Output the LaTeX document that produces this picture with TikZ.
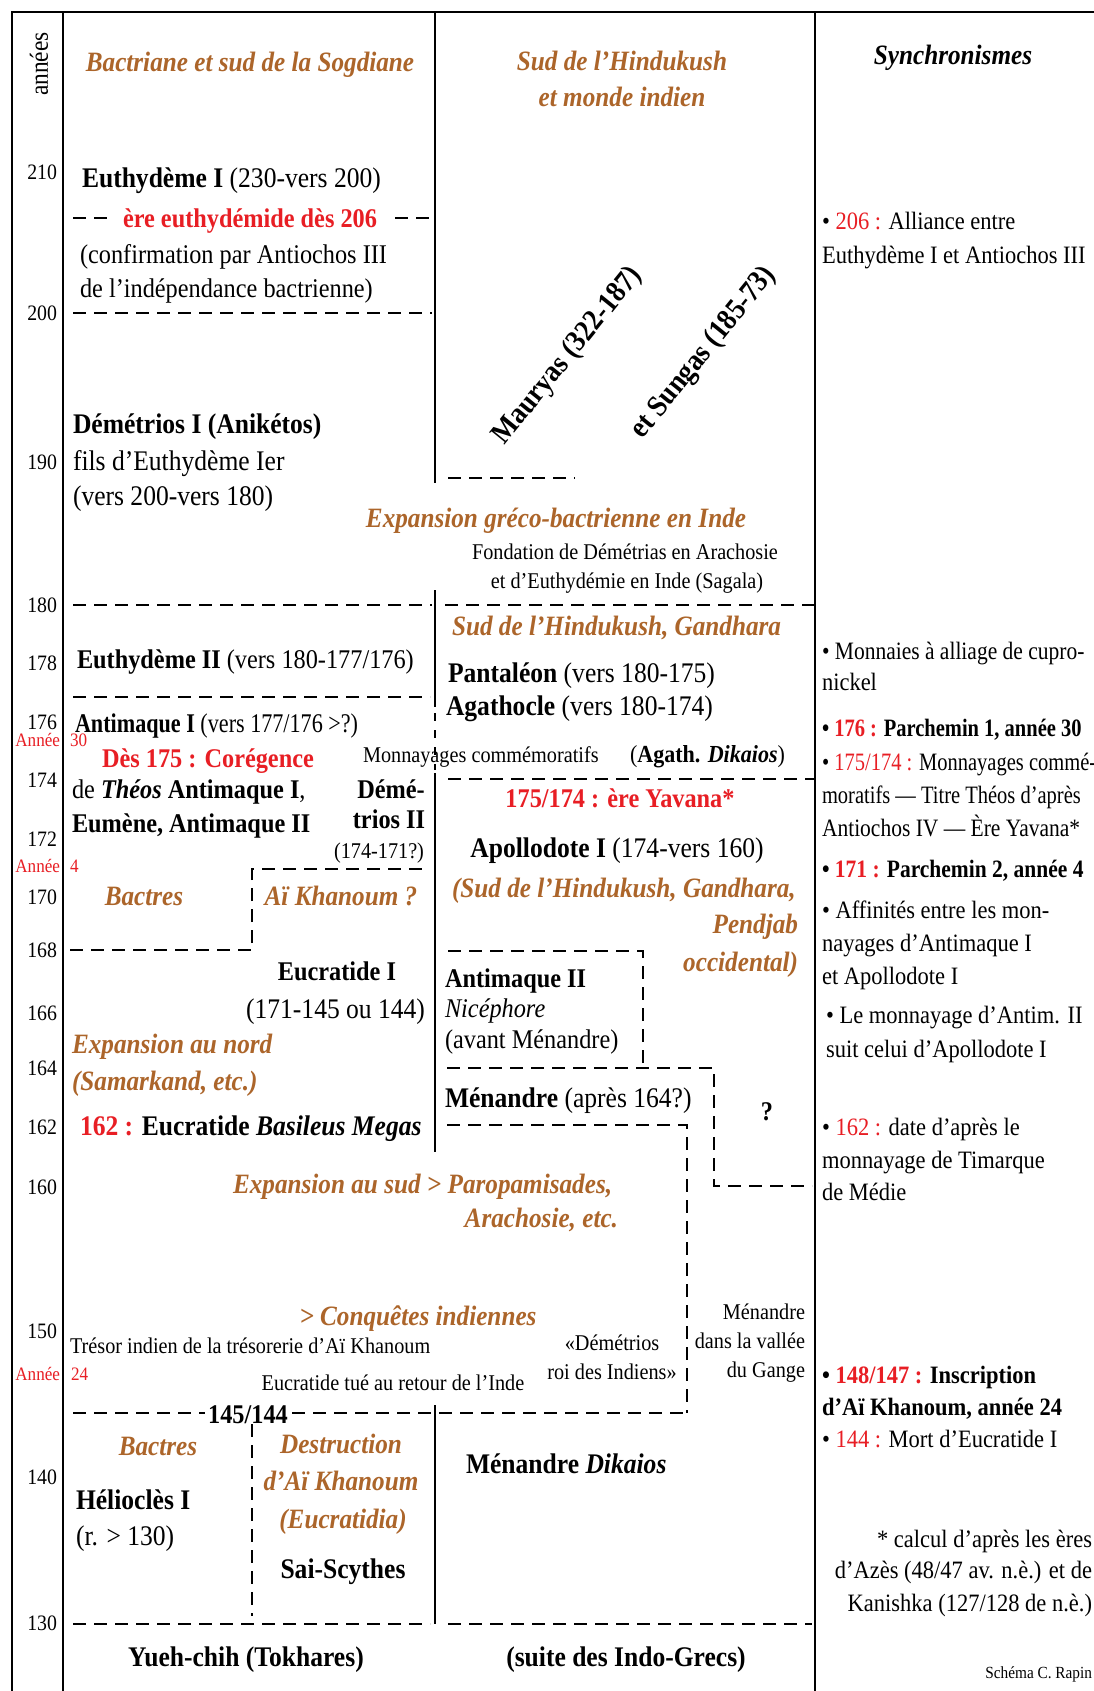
\documentclass[tikz,border=0pt]{standalone}
\usepackage{fontspec}
\setmainfont{Liberation Serif}[FakeStretch=0.9]
\newfontfamily\fA{Liberation Serif}[FakeStretch=0.82]
\newfontfamily\fB{Liberation Serif}[FakeStretch=0.86]
\definecolor{brn}{RGB}{172,101,42}
\definecolor{rd}{RGB}{232,30,36}
\begin{document}
\begin{tikzpicture}[x=1pt,y=-1pt,
  every node/.style={inner sep=0pt, outer sep=0pt},
  frame/.style={line width=2.6pt, black},
  dsh/.style={line width=2.6pt, dash pattern=on 13pt off 8pt},
  big/.style={font=\fontsize{27}{32}\selectfont},
  bigl/.style={font=\fontsize{28.4}{33}\selectfont},
  hd/.style={font=\fontsize{28}{33}\selectfont\bfseries\itshape, text=brn},
  sm/.style={font=\fontsize{22.5}{26}\selectfont},
  syn/.style={font=\fontsize{25}{30}\selectfont, anchor=base west},
  yr/.style={font=\fontsize{22}{26}\selectfont, anchor=base east},
  an/.style={font=\fontsize{19}{22}\selectfont, text=rd},
  rot/.style={font=\fontsize{30}{34}\selectfont\bfseries, rotate=51},
]
\useasboundingbox (0,0) rectangle (1094,1691);
\fill[white] (0,0) rectangle (1094,1691);
% ---------- frame
\draw[frame] (1094,12) -- (12,12) -- (12,1691);
\draw[frame] (63,12) -- (63,1691);
\draw[frame] (815,12) -- (815,1691);
\draw[frame] (435,12) -- (435,483);
\draw[frame] (435,590) -- (435,707);
\draw[line width=2.6pt, dash pattern=on 8pt off 9pt] (435,713) -- (435,770);
\draw[frame] (435,773) -- (435,1152);
\draw[frame] (435,1405) -- (435,1624);
% ---------- dashed lines
\draw[dsh] (73,218) -- (110,218);
\draw[dsh] (395,218) -- (432,218);
\draw[dsh] (73,313) -- (432,313);
\draw[dsh] (448,478) -- (575,478);
\draw[dsh] (73,605) -- (432,605);
\draw[dsh] (445,605) -- (815,605);
\draw[dsh] (73,697) -- (430,697);
\draw[dsh] (448,779) -- (815,779);
\draw[dsh] (70,950) -- (252,950) -- (252,869) -- (428,869);
\draw[dsh] (448,951) -- (643,951) -- (643,1063);
\draw[dsh] (447,1068) -- (714,1068) -- (714,1186) -- (812,1186);
\draw[dsh] (447,1125) -- (687,1125) -- (687,1413);
\draw[dsh] (73,1413) -- (205,1413);
\draw[dsh] (292,1413) -- (687,1413);
\draw[dsh] (252,1424) -- (252,1616);
\draw[dsh] (73,1624) -- (430,1624);
\draw[dsh] (448,1624) -- (812,1624);
% ---------- headers
\node[hd, anchor=base] (hbac) at (250,72) {Bactriane et sud de la Sogdiane};
\node[hd, anchor=base] (hsud1) at (622,71) {Sud de l’Hindukush};
\node[hd, anchor=base] (hsud2) at (622,107) {et monde indien};
\node[hd, text=black, anchor=base] (hsyn) at (953,65) {Synchronismes};
\node[font=\fontsize{26}{30}\selectfont, rotate=90] (ann) at (39,64) {années};
% ---------- years
\foreach \v/\b in {210/179,200/320,190/469,180/612,178/670,176/729,174/787,172/846,170/904,168/957,166/1020,164/1075,162/1134,160/1194,150/1338,140/1484,130/1630}
  \node[yr] (y\v) at (57,\b) {\v};
\node[an, anchor=base east] (a30) at (60,746) {Année};
\node[an, anchor=base west] (n30) at (70,746) {30};
\node[an, anchor=base east] (a4) at (60,872) {Année};
\node[an, anchor=base west] (n4) at (70,872) {4};
\node[an, anchor=base east] (a24) at (60,1380) {Année};
\node[an, anchor=base west] (n24) at (71,1380) {24};
% ---------- left column
\node[bigl, anchor=base west] (eut1) at (82,187) {\textbf{Euthydème I} (230-vers 200)};
\node[anchor=base, text=rd, font=\fontsize{27}{32}\selectfont\bfseries] (ere) at (250,227) {ère euthydémide dès 206};
\node[big, anchor=base west] (conf1) at (80,263) {(confirmation par Antiochos III};
\node[big, anchor=base west] (conf2) at (80,297) {de l’indépendance bactrienne)};
\node[bigl, anchor=base west] (dem1) at (73,433) {\textbf{Démétrios I (Anikétos)}};
\node[bigl, anchor=base west] (dem2) at (73,470) {fils d’Euthydème Ier};
\node[bigl, anchor=base west] (dem3) at (73,505) {(vers 200-vers 180)};
\node[big, anchor=base west] (eut2) at (77,668) {\textbf{Euthydème II} (vers 180-177/176)};
\node[big, anchor=base west, font=\fontsize{27}{32}\fA] (ant1) at (75,732) {\textbf{Antimaque I} (vers 177/176 >?)};
\node[anchor=base west, text=rd, font=\fontsize{27}{32}\selectfont\bfseries] (cor) at (102,767) {Dès 175 : Corégence};
\node[big, anchor=base west] (cor2) at (72,798) {de \textbf{\textit{Théos} Antimaque I},};
\node[big, anchor=base west] (cor3) at (72,832) {\textbf{Eumène, Antimaque II}};
\node[big, anchor=base] (dm1) at (391,798) {\textbf{Démé-}};
\node[big, anchor=base] (dm2) at (389,828) {\textbf{trios II}};
\node[sm, anchor=base] (dm3) at (379,858) {(174-171?)};
\node[hd, anchor=base] (bac1) at (144,905) {Bactres};
\node[hd, anchor=base] (aik1) at (341,905) {Aï Khanoum ?};
\node[big, anchor=base] (euc1) at (337,980) {\textbf{Eucratide I}};
\node[bigl, anchor=base east] (euc2) at (425,1018) {(171-145 ou 144)};
\node[hd, anchor=base west] (expn1) at (72,1053) {Expansion au nord};
\node[hd, anchor=base west] (expn2) at (72,1090) {(Samarkand, etc.)};
\node[bigl, anchor=base west] (euc3) at (80,1135) {\bfseries\textcolor{rd}{162 :} Eucratide \textit{Basileus Megas}};
\node[hd, anchor=base west] (exps1) at (233,1193) {Expansion au sud > Paropamisades,};
\node[hd, anchor=base east] (exps2) at (618,1227) {Arachosie, etc.};
% ---------- middle column
\node[rot] (maur) at (568,356) {Mauryas (322-187)};
\node[rot] (sung) at (704,353) {et Sungas (185-73)};
\node[hd, anchor=base] (expg) at (556,527) {Expansion gréco-bactrienne en Inde};
\node[sm, anchor=base] (fond1) at (625,559) {Fondation de Démétrias en Arachosie};
\node[sm, anchor=base] (fond2) at (627,588) {et d’Euthydémie en Inde (Sagala)};
\node[hd, anchor=base west] (sudg) at (452,635) {Sud de l’Hindukush, Gandhara};
\node[bigl, anchor=base west] (pant) at (448,682) {\textbf{Pantaléon} (vers 180-175)};
\node[bigl, anchor=base west] (agat) at (446,715) {\textbf{Agathocle} (vers 180-174)};
\node[sm, anchor=base west] (monn) at (363,762) {Monnayages commémoratifs};
\node[anchor=base west, font=\fontsize{24.5}{28}\selectfont] (agd) at (630,762) {(\textbf{Agath. \textit{Dikaios}})};
\node[anchor=base, text=rd, font=\fontsize{27}{32}\selectfont\bfseries] (yav) at (620,807) {175/174 : ère Yavana*};
\node[bigl, anchor=base] (apo) at (617,857) {\textbf{Apollodote I} (174-vers 160)};
\node[hd, anchor=base west] (sudg2) at (452,897) {(Sud de l’Hindukush, Gandhara,};
\node[hd, anchor=base east] (pend) at (798,933) {Pendjab};
\node[hd, anchor=base east] (occ) at (798,971) {occidental)};
\node[big, anchor=base west] (ant2a) at (445,987) {\textbf{Antimaque II}};
\node[big, anchor=base west] (ant2b) at (445,1017) {\textit{Nicéphore}};
\node[big, anchor=base west] (ant2c) at (445,1048) {(avant Ménandre)};
\node[bigl, anchor=base west] (men) at (445,1107) {\textbf{Ménandre} (après 164?)};
\node[big, anchor=base] (qm) at (767,1120) {\textbf{?}};
% ---------- lower band
\node[hd, anchor=base] (conq) at (418,1325) {> Conquêtes indiennes};
\node[sm, anchor=base west] (tres) at (70,1353) {Trésor indien de la trésorerie d’Aï Khanoum};
\node[sm, anchor=base] (tue) at (393,1390) {Eucratide tué au retour de l’Inde};
\node[sm, anchor=base] (dmt1) at (612,1350) {«Démétrios};
\node[sm, anchor=base] (dmt2) at (612,1379) {roi des Indiens»};
\node[sm, anchor=base east] (mg1) at (805,1319) {Ménandre};
\node[sm, anchor=base east] (mg2) at (805,1348) {dans la vallée};
\node[sm, anchor=base east] (mg3) at (805,1377) {du Gange};
\node[big, anchor=base] (d145) at (248,1423) {\textbf{145/144}};
\node[hd, anchor=base] (bac2) at (158,1455) {Bactres};
\node[hd, anchor=base] (des1) at (341,1453) {Destruction};
\node[hd, anchor=base] (des2) at (341,1490) {d’Aï Khanoum};
\node[hd, anchor=base] (des3) at (343,1528) {(Eucratidia)};
\node[bigl, anchor=base] (sai) at (343,1578) {\textbf{Sai-Scythes}};
\node[bigl, anchor=base west] (hel1) at (76,1509) {\textbf{Hélioclès I}};
\node[bigl, anchor=base west] (hel2) at (76,1545) {(r. > 130)};
\node[bigl, anchor=base west] (mend) at (466,1473) {\textbf{Ménandre \textit{Dikaios}}};
\node[bigl, anchor=base] (yue) at (246,1666) {\textbf{Yueh-chih (Tokhares)}};
\node[bigl, anchor=base] (suite) at (626,1666) {\textbf{(suite des Indo-Grecs)}};
% ---------- synchronismes
\node[syn] (s1) at (822,229) {• \textcolor{rd}{206 :} Alliance entre};
\node[syn] (s2) at (822,263) {Euthydème I et Antiochos III};
\node[syn, font=\fontsize{25}{30}\fB] (s3) at (822,659) {• Monnaies à alliage de cupro-};
\node[syn] (s4) at (822,690) {nickel};
\node[syn, font=\fontsize{25}{30}\fA] (s5) at (822,736) {\bfseries • \textcolor{rd}{176 :} Parchemin 1, année 30};
\node[syn, font=\fontsize{25}{30}\fA] (s6) at (822,770) {• \textcolor{rd}{175/174 :} Monnayages commé-};
\node[syn, font=\fontsize{25}{30}\fA] (s7) at (822,803) {moratifs — Titre Théos d’après};
\node[syn, font=\fontsize{25}{30}\fB] (s8) at (822,836) {Antiochos IV — Ère Yavana*};
\node[syn, font=\fontsize{25}{30}\fB] (s9) at (822,877) {\bfseries • \textcolor{rd}{171 :} Parchemin 2, année 4};
\node[syn] (s10) at (822,918) {• Affinités entre les mon-};
\node[syn] (s11) at (822,951) {nayages d’Antimaque I};
\node[syn] (s12) at (822,984) {et Apollodote I};
\node[syn] (s13) at (826,1023) {• Le monnayage d’Antim. II};
\node[syn] (s14) at (826,1057) {suit celui d’Apollodote I};
\node[syn] (s15) at (822,1135) {• \textcolor{rd}{162 :} date d’après le};
\node[syn] (s16) at (822,1168) {monnayage de Timarque};
\node[syn] (s17) at (822,1200) {de Médie};
\node[syn] (s18) at (822,1383) {\bfseries • \textcolor{rd}{148/147 :} Inscription};
\node[syn] (s19) at (822,1415) {\bfseries d’Aï Khanoum, année 24};
\node[syn] (s20) at (822,1447) {• \textcolor{rd}{144 :} Mort d’Eucratide I};
\node[syn, anchor=base east] (f1) at (1092,1547) {* calcul d’après les ères};
\node[syn, anchor=base east] (f2) at (1092,1578) {d’Azès (48/47 av. n.è.) et de};
\node[syn, anchor=base east] (f3) at (1092,1611) {Kanishka (127/128 de n.è.)};
\node[font=\fontsize{17}{20}\selectfont, anchor=base east] (rap) at (1092,1678) {Schéma C. Rapin};
\end{tikzpicture}
\end{document}
